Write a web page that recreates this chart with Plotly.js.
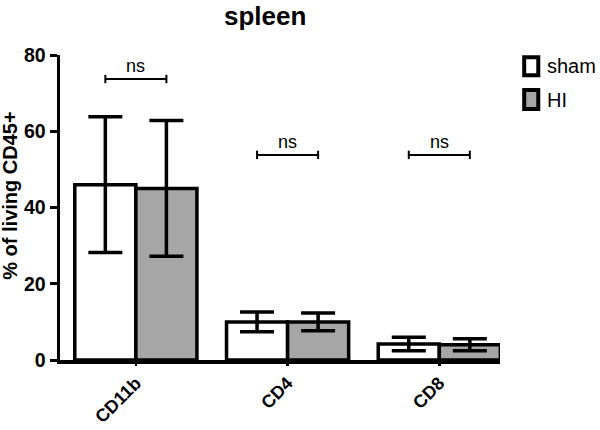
<!DOCTYPE html>
<html>
<head>
<meta charset="utf-8">
<script src="https://cdn.plot.ly/plotly-3.0.1.min.js"></script>
<style>html,body{margin:0;padding:0;background:#fff;}#chart{width:600px;height:430px;}</style>
</head>
<body>
<div id="chart"></div>
<script>
// ---- data ----
const categories = ['CD11b', 'CD4', 'CD8'];
const seriesNames = ['sham', 'HI'];
const shamValues = [46.0, 10.0, 4.2];
const shamErrors = [17.8, 2.6, 1.8];
const hiValues = [45.0, 10.0, 4.0];
const hiErrors = [17.8, 2.3, 1.6];
const sigLabels = ['ns', 'ns', 'ns'];
const sigLevels = [73.7, 53.8, 53.8];
const yTicks = [0, 20, 40, 60, 80];

const colors = ['#ffffff', '#a6a6a6'];
const bargap = 0.195;
const font = 'Arial, "Liberation Sans", Helvetica, sans-serif';

function barTrace(name, y, err, color) {
  return {
    type: 'bar', name: name, x: categories, y: y,
    marker: {color: color, line: {color: '#000', width: 3.5}},
    error_y: {type: 'data', array: err, visible: true, color: '#000', thickness: 3.5, width: 17},
    showlegend: false
  };
}
const traces = [
  barTrace(seriesNames[0], shamValues, shamErrors, colors[0]),
  barTrace(seriesNames[1], hiValues, hiErrors, colors[1])
];

const shapes = [];
const annotations = [];
const half = (1 - bargap) / 4; // center offset of each bar in group
categories.forEach((c, i) => {
  const x0 = i - half, x1 = i + half, y = sigLevels[i];
  shapes.push({type: 'line', xref: 'x', yref: 'y', x0: x0, x1: x1, y0: y, y1: y, line: {color: '#000', width: 2}});
  shapes.push({type: 'line', xref: 'x', yref: 'y', x0: x0, x1: x0, y0: y - 1.1, y1: y + 1.1, line: {color: '#000', width: 2}});
  shapes.push({type: 'line', xref: 'x', yref: 'y', x0: x1, x1: x1, y0: y - 1.1, y1: y + 1.1, line: {color: '#000', width: 2}});
  annotations.push({xref: 'x', yref: 'y', x: i, y: y + 0.2, text: sigLabels[i], showarrow: false,
    yanchor: 'bottom', font: {family: font, size: 18, color: '#000'}});
});

// custom legend
const legendY = [[0.934, 0.993], [0.823, 0.885]];
seriesNames.forEach((n, k) => {
  shapes.push({type: 'rect', xref: 'paper', yref: 'paper', x0: 1.055, x1: 1.087,
    y0: legendY[k][0], y1: legendY[k][1], fillcolor: colors[k], line: {color: '#000', width: 4}});
  annotations.push({xref: 'paper', yref: 'paper', x: 1.102, y: (legendY[k][0] + legendY[k][1]) / 2,
    xanchor: 'left', yanchor: 'middle', text: n, showarrow: false, font: {family: font, size: 20, color: '#000'}});
});

// y-axis title
annotations.push({xref: 'paper', yref: 'paper', x: -0.114, y: 0.538, xanchor: 'center', yanchor: 'middle',
  textangle: -90, text: '<b>% of living CD45+</b>', showarrow: false, font: {family: font, size: 20, color: '#000'}});

const layout = {
  width: 600, height: 430,
  margin: {l: 60, r: 100, t: 55, b: 70},
  paper_bgcolor: '#fff', plot_bgcolor: '#fff',
  font: {family: font, color: '#000'},
  title: {text: '<b>spleen</b>', x: 0.442, xanchor: 'center', y: 0.963, yanchor: 'middle',
    font: {family: font, size: 26, color: '#000'}},
  barmode: 'group', bargap: bargap, bargroupgap: 0,
  xaxis: {
    type: 'category', range: [-0.5, 2.4], showline: true, linecolor: '#000', linewidth: 3.5,
    ticks: 'outside', ticklen: 2, tickwidth: 2.5, tickcolor: '#000', tickangle: -45,
    tickfont: {family: font, size: 18, color: '#000', weight: 'bold'},
    showgrid: false, zeroline: false, automargin: false
  },
  yaxis: {
    range: [0, 80], tickvals: yTicks, ticktext: yTicks.map(String),
    showline: true, linecolor: '#000', linewidth: 3.5,
    ticks: 'outside', ticklen: 7, tickwidth: 3, tickcolor: '#000',
    tickfont: {family: font, size: 19.5, color: '#000', weight: 'bold'},
    showgrid: false, zeroline: false, automargin: false
  },
  shapes: shapes,
  annotations: annotations
};

Plotly.newPlot('chart', traces, layout, {displayModeBar: false, staticPlot: true});
</script>
</body>
</html>
